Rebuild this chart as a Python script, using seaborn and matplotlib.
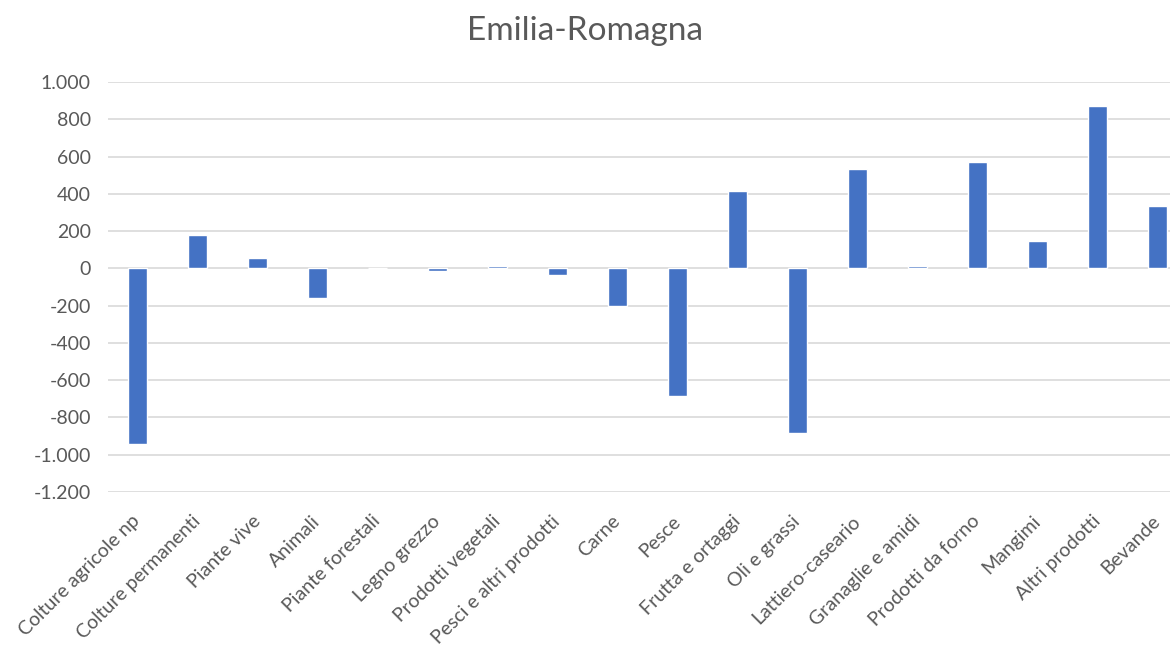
import pandas as pd
import matplotlib.pyplot as plt
import matplotlib.ticker as mticker
import seaborn as sns

categories = ["Colture agricole np", "Colture permanenti", "Piante vive", "Animali",
              "Piante forestali", "Legno grezzo", "Prodotti vegetali", "Pesci e altri prodotti",
              "Carne", "Pesce", "Frutta e ortaggi", "Oli e grassi", "Lattiero-caseario",
              "Granaglie e amidi", "Prodotti da forno", "Mangimi", "Altri prodotti", "Bevande"]
values = [-940, 180, 55, -160, 0, -12, 12, -36, -200, -686, 416, -882, 532, 14, 571, 149, 873, 335]
yticks = list(range(-1200, 1001, 200))

df = pd.DataFrame({"categoria": categories, "valore": values})

sns.set_theme(style="white")
plt.rcParams["font.family"] = ["Lato", "DejaVu Sans"]
text_col = "#595959"

fig = plt.figure(figsize=(11.7, 6.51), dpi=100)
ax = fig.add_axes([107.5 / 1170, 1 - 492 / 651, 1080 / 1170, (492 - 82) / 651])

sns.barplot(data=df, x="categoria", y="valore", color="#4472C4", saturation=1,
            width=0.32, ax=ax, zorder=3)

ax.set_ylim(-1200, 1000)
ax.set_xlim(-0.5, len(categories) - 0.5)
ax.set_yticks(yticks)
ax.yaxis.set_major_formatter(mticker.FuncFormatter(lambda v, p: f"{v:,.0f}".replace(",", ".")))
ax.grid(axis="y", color="#D9D9D9", linewidth=1.2, zorder=0)
ax.set_axisbelow(True)
for s in ax.spines.values():
    s.set_visible(False)
ax.set_xlabel("")
ax.set_ylabel("")
ax.tick_params(axis="both", length=0, colors=text_col, labelsize=14)
ax.tick_params(axis="y", pad=12)
ax.tick_params(axis="x", pad=19)
plt.setp(ax.get_xticklabels(), rotation=45, ha="right", va="center", rotation_mode="anchor")

fig.suptitle("Emilia-Romagna", y=1 - 31 / 651, va="center", fontsize=24, color=text_col)

fig.savefig("out.png", dpi=100)
